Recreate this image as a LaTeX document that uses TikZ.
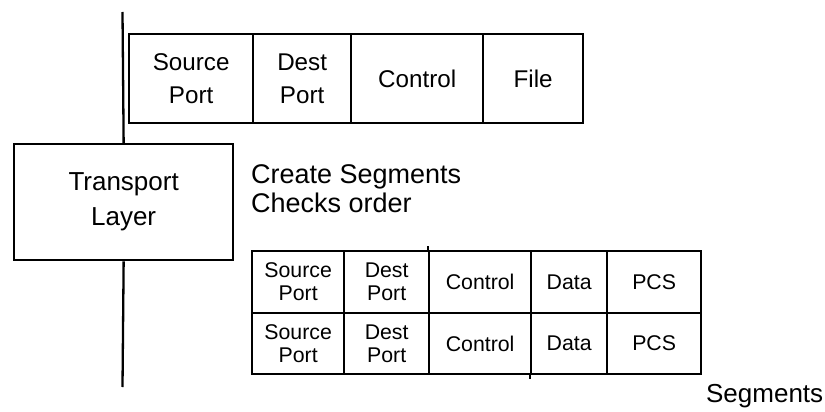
\documentclass[tikz,border=0pt]{standalone}
\usepackage{fontspec}
\setmainfont{Liberation Sans}
\begin{document}
\begin{tikzpicture}[x=1pt,y=-1pt,line width=2.3pt,
  cell/.style={draw, rectangle, inner sep=0pt, anchor=north west, align=center},
  topcell/.style={cell, minimum height=89pt, font=\fontsize{24.2}{33}\selectfont},
  segcell/.style={cell, minimum height=61.5pt, font=\fontsize{21.3}{23}\selectfont},
  layerbox/.style={cell, minimum width=219pt, minimum height=116pt, font=\fontsize{26}{35}\selectfont},
  note/.style={inner sep=0pt, anchor=base west, font=\fontsize{27}{29}\selectfont}
]
\useasboundingbox (0,0) rectangle (825,412);

% header of the file handed down from above
\node[topcell, minimum width=124pt] (h1) at (128,33) {Source\\Port};
\node[topcell, minimum width=98pt]  (h2) at (252,33) {Dest\\Port};
\node[topcell, minimum width=132pt] (h3) at (350,33) {Control};
\node[topcell, minimum width=100pt] (h4) at (482,33) {File};

% transport layer and its stack line
\node[layerbox] (tl) at (13,143) {Transport\\Layer};
\coordinate (ltop) at (122.5,12);
\coordinate (lbot) at (122.5,387);
\draw (ltop) -- (tl.north);
\draw (tl.south) -- (lbot);

\node[note] (n1) at (250,183) {Create Segments};
\node[note] (n2) at (250,212) {Checks order};

% two segments
\foreach \r/\y in {1/250,2/311.5}{
  \node[segcell, minimum width=92pt] (a\r) at (251,\y) {Source\\Port};
  \node[segcell, minimum width=85pt] (b\r) at (343,\y) {Dest\\Port};
  \node[segcell, minimum width=102pt] (c\r) at (428,\y) {Control};
  \node[segcell, minimum width=76pt] (d\r) at (530,\y) {Data};
  \node[segcell, minimum width=94pt] (e\r) at (606,\y) {PCS};
}
\draw (c1.north west) -- ++(0,-4);
\draw (d2.south west) -- ++(0,4);

\node[inner sep=0pt, anchor=base west, font=\fontsize{26}{28}\selectfont] (seg) at (705,402) {Segments};
\end{tikzpicture}
\end{document}
